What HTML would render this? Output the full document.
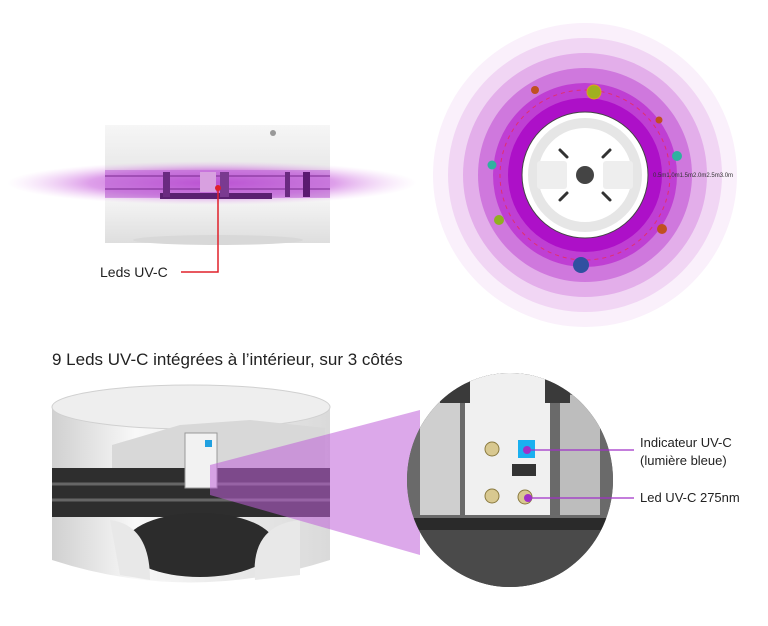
<!DOCTYPE html>
<html><head><meta charset="utf-8"><style>
body{margin:0;background:#fff}
svg{display:block}
text{font-family:"Liberation Sans",sans-serif}
</style></head><body>
<svg width="768" height="626" viewBox="0 0 768 626" xmlns="http://www.w3.org/2000/svg">
<defs>
<linearGradient id="body" x1="0" y1="0" x2="0" y2="1">
<stop offset="0" stop-color="#f6f6f6"/><stop offset="1" stop-color="#dedede"/></linearGradient>
<radialGradient id="glow" cx="0.5" cy="0.5" r="0.5">
<stop offset="0" stop-color="#b030c8" stop-opacity="0.9"/><stop offset="0.6" stop-color="#c860dc" stop-opacity="0.6"/><stop offset="1" stop-color="#e8b0f0" stop-opacity="0"/></radialGradient>
<linearGradient id="cyl" x1="0" y1="0" x2="1" y2="0">
<stop offset="0" stop-color="#d0d0d0"/><stop offset="0.3" stop-color="#f8f8f8"/><stop offset="1" stop-color="#dadada"/></linearGradient>
</defs>
<!-- top left device -->
<rect x="105" y="125" width="225" height="80" fill="url(#body)"/>
<rect x="105" y="197" width="225" height="46" fill="url(#body)"/>
<ellipse cx="218" cy="240" rx="85" ry="5" fill="#d8d8d8"/>
<ellipse cx="212" cy="183" rx="205" ry="22" fill="url(#glow)"/>
<rect x="105" y="170" width="225" height="28" fill="#c060d8" opacity="0.55"/>
<line x1="105" y1="176" x2="330" y2="176" stroke="#7a2a90" stroke-width="1"/>
<line x1="105" y1="189" x2="330" y2="189" stroke="#7a2a90" stroke-width="1"/>
<rect x="160" y="193" width="112" height="6" fill="#5a2070"/>
<rect x="163" y="172" width="7" height="25" fill="#6a2a80"/>
<rect x="220" y="172" width="9" height="25" fill="#7a3a90"/>
<rect x="285" y="172" width="5" height="25" fill="#6a2a80"/>
<rect x="303" y="172" width="7" height="25" fill="#5a1a70"/>
<rect x="200" y="172" width="16" height="20" fill="#d8a0e0"/>
<circle cx="273" cy="133" r="3" fill="#999"/>
<polyline points="218,188 218,272 181,272" fill="none" stroke="#e0202a" stroke-width="1.5"/>
<circle cx="218" cy="188" r="3" fill="#e0202a"/>
<text x="100" y="277" font-size="14" fill="#222">Leds UV-C</text>
<!-- concentric rings -->
<g transform="translate(585,175)">
<circle r="152" fill="#faf0fb"/>
<circle r="137" fill="#f1d6f4"/>
<circle r="122" fill="#e3aeea"/>
<circle r="107" fill="#cf78dd"/>
<circle r="92" fill="#bf3fd3"/>
<circle r="77" fill="#ad10c8"/>
<circle r="85" fill="none" stroke="#e03070" stroke-dasharray="4 4" stroke-width="1"/>
<circle r="63" fill="#fff" stroke="#444" stroke-width="1"/>
<circle r="52" fill="none" stroke="#e6e6e6" stroke-width="10"/>
<rect x="-48" y="-14" width="30" height="28" rx="3" fill="#eee"/>
<rect x="18" y="-14" width="30" height="28" rx="3" fill="#eee"/>
<circle r="9" fill="#444"/>
<g stroke="#333" stroke-width="3" stroke-linecap="round">
<line x1="-25" y1="-25" x2="-18" y2="-18"/><line x1="25" y1="-25" x2="18" y2="-18"/>
<line x1="-25" y1="25" x2="-18" y2="18"/><line x1="25" y1="25" x2="18" y2="18"/></g>
<circle cx="9" cy="-83" r="7" fill="#a0b020" stroke="#e0a020"/>
<circle cx="-50" cy="-85" r="4" fill="#c05020"/>
<circle cx="74" cy="-55" r="3.5" fill="#c05020"/>
<circle cx="92" cy="-19" r="5" fill="#30b0a0"/>
<circle cx="-93" cy="-10" r="4.5" fill="#30b0a0"/>
<circle cx="-86" cy="45" r="5" fill="#90b020"/>
<circle cx="77" cy="54" r="5" fill="#c05020"/>
<circle cx="-4" cy="90" r="8" fill="#3050a0"/>
<text x="68" y="2" font-size="6" fill="#333">0.5m1.0m1.5m2.0m2.5m3.0m</text>
</g>
<!-- heading -->
<text x="52" y="365" font-size="17" fill="#222">9 Leds UV-C intégrées à l’intérieur, sur 3 côtés</text>
<!-- bottom device -->
<path d="M52,408 L52,560 Q190,605 330,560 L330,408 Z" fill="url(#cyl)"/>
<ellipse cx="191" cy="407" rx="139" ry="22" fill="#eeeeee" stroke="#d0d0d0"/>
<path d="M112,445 L112,468 L325,468 L325,428 L250,420 L180,425 Z" fill="#d8d8d8"/>
<path d="M52,468 L330,468 L330,517 L52,517 Z" fill="#2e2e2e"/>
<line x1="52" y1="484" x2="330" y2="484" stroke="#666" stroke-width="3"/>
<line x1="52" y1="500" x2="330" y2="500" stroke="#666" stroke-width="3"/>
<ellipse cx="200" cy="545" rx="75" ry="32" fill="#2c2c2c"/>
<path d="M110,520 Q150,525 150,580 L120,575 Z" fill="#e8e8e8"/>
<path d="M300,520 Q250,525 255,580 L300,575 Z" fill="#e8e8e8"/>
<rect x="185" y="433" width="32" height="55" fill="#f2f2f2" stroke="#999"/>
<rect x="205" y="440" width="7" height="7" fill="#20a0e0"/>
<!-- purple cone -->
<polygon points="210,465 420,410 420,555 210,495" fill="#c060d8" opacity="0.55"/>
<!-- zoom circle -->
<ellipse cx="510" cy="480" rx="103" ry="107" fill="#555"/>
<clipPath id="zc"><ellipse cx="510" cy="480" rx="103" ry="107"/></clipPath>
<g clip-path="url(#zc)">
<rect x="400" y="370" width="220" height="220" fill="#6a6a6a"/>
<rect x="420" y="395" width="40" height="120" fill="#cfcfcf"/>
<rect x="560" y="395" width="40" height="120" fill="#bdbdbd"/>
<rect x="465" y="373" width="85" height="142" fill="#f0f0f0"/>
<rect x="440" y="373" width="30" height="30" fill="#3a3a3a"/>
<rect x="545" y="373" width="25" height="30" fill="#3a3a3a"/>
<rect x="400" y="518" width="220" height="12" fill="#2a2a2a"/>
<rect x="400" y="530" width="220" height="60" fill="#4a4a4a"/>
<circle cx="492" cy="449" r="7" fill="#d8c890" stroke="#8a7a40"/>
<circle cx="492" cy="496" r="7" fill="#d8c890" stroke="#8a7a40"/>
<circle cx="525" cy="497" r="7" fill="#d8c890" stroke="#8a7a40"/>
<rect x="518" y="440" width="17" height="18" fill="#1ab0f0"/>
<rect x="512" y="464" width="24" height="12" fill="#333"/>
</g>
<circle cx="527" cy="450" r="4" fill="#a030c8"/>
<circle cx="528" cy="498" r="4" fill="#a030c8"/>
<line x1="527" y1="450" x2="634" y2="450" stroke="#a030c8" stroke-width="1.3"/>
<line x1="528" y1="498" x2="634" y2="498" stroke="#a030c8" stroke-width="1.3"/>
<text x="640" y="447" font-size="13" fill="#222">Indicateur UV-C</text>
<text x="640" y="465" font-size="13" fill="#222">(lumière bleue)</text>
<text x="640" y="502" font-size="13" fill="#222">Led UV-C 275nm</text>
</svg>
</body></html>
